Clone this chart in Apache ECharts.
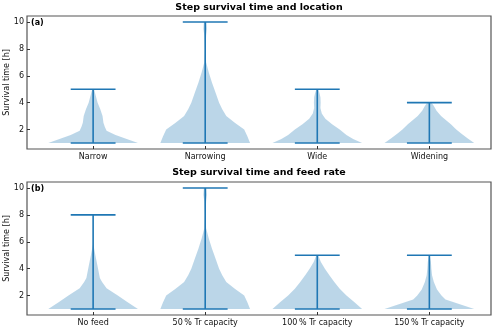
<!DOCTYPE html>
<html>
<head>
<meta charset="utf-8">
<script src="https://cdn.jsdelivr.net/npm/echarts@6/dist/echarts.min.js"></script>
<style>
html, body { margin: 0; padding: 0; background: #fff; }
#main { width: 500px; height: 330px; }
</style>
</head>
<body>
<div id="main"></div>
<script>
// violin positions on the x axis
var positions = [1, 2, 3, 4];

// (a) location
var locNames = ['Narrow', 'Narrowing', 'Wide', 'Widening'];
var locMin = [1, 1, 1, 1];
var locMax = [5, 10, 5, 4];
// sample heights [h] and relative density (1 = widest) for each violin
var locY = [
    [1, 1.3, 1.6, 1.9, 2.2, 2.5, 3, 3.5, 4, 4.5, 5],
    [1, 1.5, 2, 2.5, 3, 3.5, 4, 4.75, 5.5, 6.25, 7, 8, 9, 9.5, 10],
    [1, 1.3, 1.6, 2, 2.4, 2.8, 3.2, 3.6, 4, 4.4, 4.7, 5],
    [1, 1.35, 1.7, 2, 2.4, 3, 3.4, 3.75, 4]
];
var locW = [
    [1, 0.75, 0.5, 0.3, 0.26, 0.23, 0.21, 0.16, 0.1, 0.06, 0.02],
    [1, 0.94, 0.87, 0.66, 0.47, 0.38, 0.31, 0.23, 0.15, 0.08, 0.02, 0.01, 0.02, 0.04, 0.03],
    [1, 0.8, 0.65, 0.5, 0.33, 0.18, 0.1, 0.07, 0.075, 0.07, 0.05, 0.02],
    [1, 0.85, 0.71, 0.6, 0.48, 0.26, 0.16, 0.1, 0.05]
];

// (b) feed rate
var feedNames = ['No feed', '50\u2009% Tr capacity', '100\u2009% Tr capacity', '150\u2009% Tr capacity'];
var feedMin = [1, 1, 1, 1];
var feedMax = [8, 10, 5, 5];
var feedY = [
    [1, 1.5, 2, 2.54, 3, 3.3, 4, 5, 5.8, 6, 7, 8],
    [1, 1.5, 2, 2.5, 3, 3.5, 4, 4.75, 5.5, 6.25, 7, 8, 9, 9.5, 10],
    [1, 1.5, 2, 2.5, 3, 3.5, 4, 4.5, 5],
    [1, 1.35, 1.7, 2, 2.45, 3, 3.5, 4, 4.5, 5]
];
var feedW = [
    [1, 0.77, 0.55, 0.3, 0.2, 0.15, 0.11, 0.05, 0.005, 0.003, 0.003, 0.003],
    [1, 0.94, 0.87, 0.66, 0.47, 0.38, 0.31, 0.23, 0.15, 0.08, 0.02, 0.01, 0.02, 0.04, 0.03],
    [1, 0.83, 0.65, 0.5, 0.38, 0.27, 0.17, 0.08, 0.02],
    [1, 0.68, 0.36, 0.27, 0.17, 0.1, 0.06, 0.045, 0.035, 0.01]
];

var yTicks = [2, 4, 6, 8, 10];

var HALF = 0.4;   // max half width of a body
var CAP = 0.2;    // half length of the min/max bars
var blue = '#1f77b4';
var font = 'DejaVu Sans';

function bodyRender(ys, ws) {
    return function (params, api) {
        var i = params.dataIndex;
        var pos = api.value(0);
        var y = ys[i], w = ws[i];
        var pts = [];
        for (var k = 0; k < y.length; k++) pts.push(api.coord([pos - w[k] * HALF, y[k]]));
        for (var k = y.length - 1; k >= 0; k--) pts.push(api.coord([pos + w[k] * HALF, y[k]]));
        return {
            type: 'polygon',
            shape: { points: pts },
            style: { fill: 'rgba(31,119,180,0.3)', stroke: null }
        };
    };
}

function barsRender(params, api) {
    var pos = api.value(0), lo = api.value(1), hi = api.value(2);
    var st = { stroke: blue, lineWidth: 1.6 };
    function seg(a, b) {
        return { type: 'line', shape: { x1: a[0], y1: a[1], x2: b[0], y2: b[1] }, style: st };
    }
    return {
        type: 'group',
        children: [
            seg(api.coord([pos, lo]), api.coord([pos, hi])),
            seg(api.coord([pos - CAP, lo]), api.coord([pos + CAP, lo])),
            seg(api.coord([pos - CAP, hi]), api.coord([pos + CAP, hi]))
        ]
    };
}

function barData(mins, maxs) {
    return positions.map(function (p, i) { return [p, mins[i], maxs[i]]; });
}

function xAxisFor(idx, names) {
    return {
        type: 'value', gridIndex: idx, min: 0.41, max: 4.55,
        axisLine: { show: false },
        splitLine: { show: false },
        axisTick: { inside: true, length: 3, customValues: positions, lineStyle: { color: '#333' } },
        axisLabel: {
            customValues: positions, margin: 4, fontSize: 8, color: '#111', fontFamily: font,
            formatter: function (v) { return names[Math.round(v) - 1]; }
        }
    };
}

function yAxisFor(idx) {
    return {
        type: 'value', gridIndex: idx, min: 0.55, max: 10.45,
        name: 'Survival time [h]', nameLocation: 'middle', nameGap: 16, nameMoveOverlap: false,
        nameTextStyle: { fontSize: 8, color: '#111', fontFamily: font },
        axisLine: { show: false },
        splitLine: { show: false },
        axisTick: { inside: true, length: 3, customValues: yTicks, lineStyle: { color: '#333' } },
        axisLabel: { customValues: yTicks, margin: 3, fontSize: 8, color: '#111', fontFamily: font }
    };
}

var chart = echarts.init(document.getElementById('main'));

var option = {
    animation: false,
    backgroundColor: '#fff',
    grid: [
        { left: 27, top: 16, width: 464, height: 133, outerBoundsMode: 'none', containLabel: false,
          show: true, borderColor: '#555', borderWidth: 1.2 },
        { left: 27, top: 182, width: 464, height: 133, outerBoundsMode: 'none', containLabel: false,
          show: true, borderColor: '#555', borderWidth: 1.2 }
    ],
    xAxis: [xAxisFor(0, locNames), xAxisFor(1, feedNames)],
    yAxis: [yAxisFor(0), yAxisFor(1)],
    graphic: [
        { type: 'text', x: 259, y: 8, style: { text: 'Step survival time and location', font: 'bold 9.5px DejaVu Sans', fill: '#000', textAlign: 'center', textVerticalAlign: 'middle' } },
        { type: 'text', x: 259, y: 173, style: { text: 'Step survival time and feed rate', font: 'bold 9.5px DejaVu Sans', fill: '#000', textAlign: 'center', textVerticalAlign: 'middle' } },
        { type: 'text', x: 31, y: 22.5, style: { text: '(a)', font: 'bold 8px DejaVu Sans', fill: '#000', textVerticalAlign: 'middle' } },
        { type: 'text', x: 31, y: 188.5, style: { text: '(b)', font: 'bold 8px DejaVu Sans', fill: '#000', textVerticalAlign: 'middle' } }
    ],
    series: [
        {
            type: 'custom', xAxisIndex: 0, yAxisIndex: 0, silent: true,
            renderItem: bodyRender(locY, locW), data: barData(locMin, locMax)
        },
        {
            type: 'custom', xAxisIndex: 0, yAxisIndex: 0, silent: true,
            renderItem: barsRender, data: barData(locMin, locMax)
        },
        {
            type: 'custom', xAxisIndex: 1, yAxisIndex: 1, silent: true,
            renderItem: bodyRender(feedY, feedW), data: barData(feedMin, feedMax)
        },
        {
            type: 'custom', xAxisIndex: 1, yAxisIndex: 1, silent: true,
            renderItem: barsRender, data: barData(feedMin, feedMax)
        }
    ]
};

chart.setOption(option);
window.onresize = chart.resize;
</script>
</body>
</html>
